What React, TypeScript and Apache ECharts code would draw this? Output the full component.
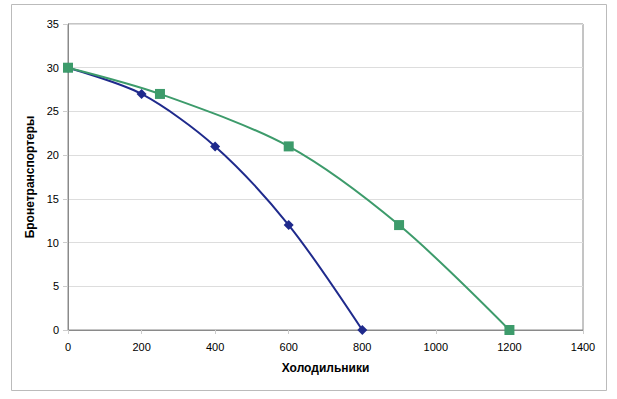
import React, { useEffect, useRef } from "react";
import * as echarts from "echarts";

const xBlue = [0, 200, 400, 600, 800];
const yBlue = [30, 27, 21, 12, 0];
const xGreen = [0, 250, 600, 900, 1200];
const yGreen = [30, 27, 21, 12, 0];
const xTitle = "Холодильники";
const yTitle = "Бронетранспортеры";

export default function App() {
  const ref = useRef<HTMLDivElement>(null);
  useEffect(() => {
    const chart = echarts.init(ref.current!, null, { renderer: "svg" });
    const font = "Liberation Sans, Arial, sans-serif";
    chart.setOption({
      animation: false,
      graphic: [
        {
          type: "rect",
          shape: { x: 11.5, y: 4.5, width: 595, height: 386 },
          style: { fill: "none", stroke: "#bbbbbb", lineWidth: 1 },
          silent: true,
        },
      ],
      grid: {
        left: 68,
        right: 34,
        top: 24,
        bottom: 69,
        show: true,
        borderColor: "#8a8a8a",
        borderWidth: 1,
      },
      xAxis: {
        type: "value",
        min: 0,
        max: 1400,
        interval: 200,
        name: xTitle,
        nameLocation: "middle",
        nameGap: 32,
        nameTextStyle: { fontFamily: font, fontSize: 12, fontWeight: "bold", color: "#000" },
        axisLine: { show: true, lineStyle: { color: "#8a8a8a" } },
        axisTick: { show: true, length: 4, lineStyle: { color: "#cccccc" } },
        axisLabel: {
          fontFamily: font,
          fontSize: 11,
          color: "#000",
          margin: 11,
          formatter: (v: number) => String(v),
        },
        splitLine: { show: false },
      },
      yAxis: {
        type: "value",
        min: 0,
        max: 35,
        interval: 5,
        name: yTitle,
        nameLocation: "middle",
        nameGap: 30,
        nameTextStyle: { fontFamily: font, fontSize: 12, fontWeight: "bold", color: "#000" },
        axisLine: { show: true, lineStyle: { color: "#8a8a8a" } },
        axisTick: { show: true, length: 5, lineStyle: { color: "#cccccc" } },
        axisLabel: { fontFamily: font, fontSize: 11, color: "#000", margin: 9 },
        splitLine: { show: true, lineStyle: { color: "#dddddd" } },
      },
      series: [
        {
          type: "line",
          data: xBlue.map((x, i) => [x, yBlue[i]]),
          smooth: 0.3,
          symbol: "diamond",
          symbolSize: 10,
          lineStyle: { color: "#1f2a8c", width: 2 },
          itemStyle: { color: "#1f2a8c" },
          z: 2,
        },
        {
          type: "line",
          data: xGreen.map((x, i) => [x, yGreen[i]]),
          smooth: 0.3,
          symbol: "rect",
          symbolSize: 10,
          lineStyle: { color: "#3d9b6b", width: 2 },
          itemStyle: { color: "#3d9b6b" },
          z: 3,
        },
      ],
    });
    return () => chart.dispose();
  }, []);
  return <div ref={ref} style={{ width: 617, height: 399, position: "absolute", left: 0, top: 0 }} />;
}
